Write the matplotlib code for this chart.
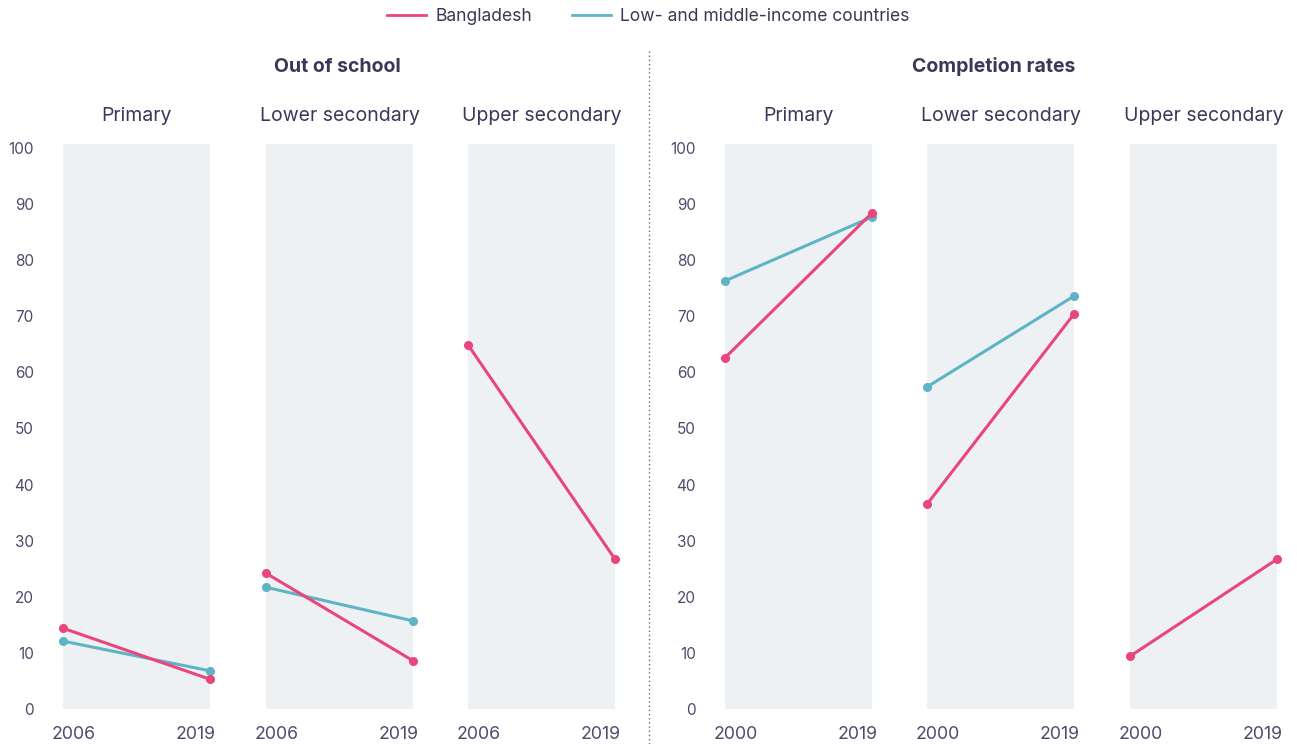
import matplotlib.pyplot as plt
from matplotlib.lines import Line2D

plt.rcParams["font.family"] = ["Inter", "DejaVu Sans"]

PINK = "#E8467C"
TEAL = "#5EB4C4"
PANEL_BG = "#EDF1F4"
TEXT = "#3A3858"
TICK = "#4E4B6A"

LEVELS = ["Primary", "Lower secondary", "Upper secondary"]

# Out of school (2006 -> 2019)
OOS_YEARS = ["2006", "2019"]
oos_bangladesh = [[14.4, 5.3], [24.2, 8.6], [64.9, 26.7]]
oos_lmic = [[12.1, 6.8], [21.7, 15.7], None]

# Completion rates (2000 -> 2019)
CR_YEARS = ["2000", "2019"]
cr_bangladesh = [[62.6, 88.4], [36.5, 70.4], [9.4, 26.7]]
cr_lmic = [[76.3, 87.7], [57.4, 73.6], None]

Y_TICKS = [0, 10, 20, 30, 40, 50, 60, 70, 80, 90, 100]

W, H = 1297, 744
fig = plt.figure(figsize=(W / 100, H / 100), dpi=100)

LEFT_X = [63, 266, 468]
RIGHT_X = [725, 927, 1130]
PANEL_W = 147
TOP, BOTTOM = 144, 709


def draw_panel(x0, level, years, bd, lmic, show_y):
    ax = fig.add_axes([x0 / W, 1 - BOTTOM / H, PANEL_W / W, (BOTTOM - TOP) / H])
    ax.set_facecolor(PANEL_BG)
    ax.set_xlim(0, 1)
    ax.set_ylim(0, 100.7)
    xs = [0, 1]
    if lmic is not None:
        ax.plot(xs, lmic, color=TEAL, lw=2.2, marker="o", ms=5.5, clip_on=False, zorder=3)
    ax.plot(xs, bd, color=PINK, lw=2.2, marker="o", ms=5.5, clip_on=False, zorder=4)
    for s in ax.spines.values():
        s.set_visible(False)
    ax.set_xticks([0.07, 0.9])
    ax.set_xticklabels(years, fontsize=12.8, color=TICK)
    ax.tick_params(axis="x", length=0, pad=12.5)
    ax.set_yticks(Y_TICKS)
    if show_y:
        ax.set_yticklabels([str(t) for t in Y_TICKS], fontsize=11, color=TICK)
    else:
        ax.set_yticklabels([])
    ax.tick_params(axis="y", length=0, pad=21)
    ax.set_title(level, fontsize=14, color=TEXT, pad=16.5)
    return ax


for i, level in enumerate(LEVELS):
    draw_panel(LEFT_X[i], level, OOS_YEARS, oos_bangladesh[i], oos_lmic[i], i == 0)
    draw_panel(RIGHT_X[i], level, CR_YEARS, cr_bangladesh[i], cr_lmic[i], i == 0)

fig.text(337 / W, 1 - 67 / H, "Out of school", ha="center", va="center",
         fontsize=14, fontweight="bold", color=TEXT)
fig.text(994 / W, 1 - 67 / H, "Completion rates", ha="center", va="center",
         fontsize=14, fontweight="bold", color=TEXT)

fig.add_artist(Line2D([649 / W, 649 / W], [0, 1 - 50 / H], transform=fig.transFigure,
                      color="#6B6880", lw=1, linestyle=(0, (1, 2))))

handles = [
    Line2D([], [], color=PINK, lw=2),
    Line2D([], [], color=TEAL, lw=2),
]
fig.legend(handles, ["Bangladesh", "Low- and middle-income countries"], loc="upper center",
           bbox_to_anchor=(0.5, 1.01), ncol=2, frameon=False, fontsize=12.6,
           handlelength=2.2, handletextpad=0.55, columnspacing=2.3, labelcolor=TEXT)

fig.savefig("out.png", dpi=100)
